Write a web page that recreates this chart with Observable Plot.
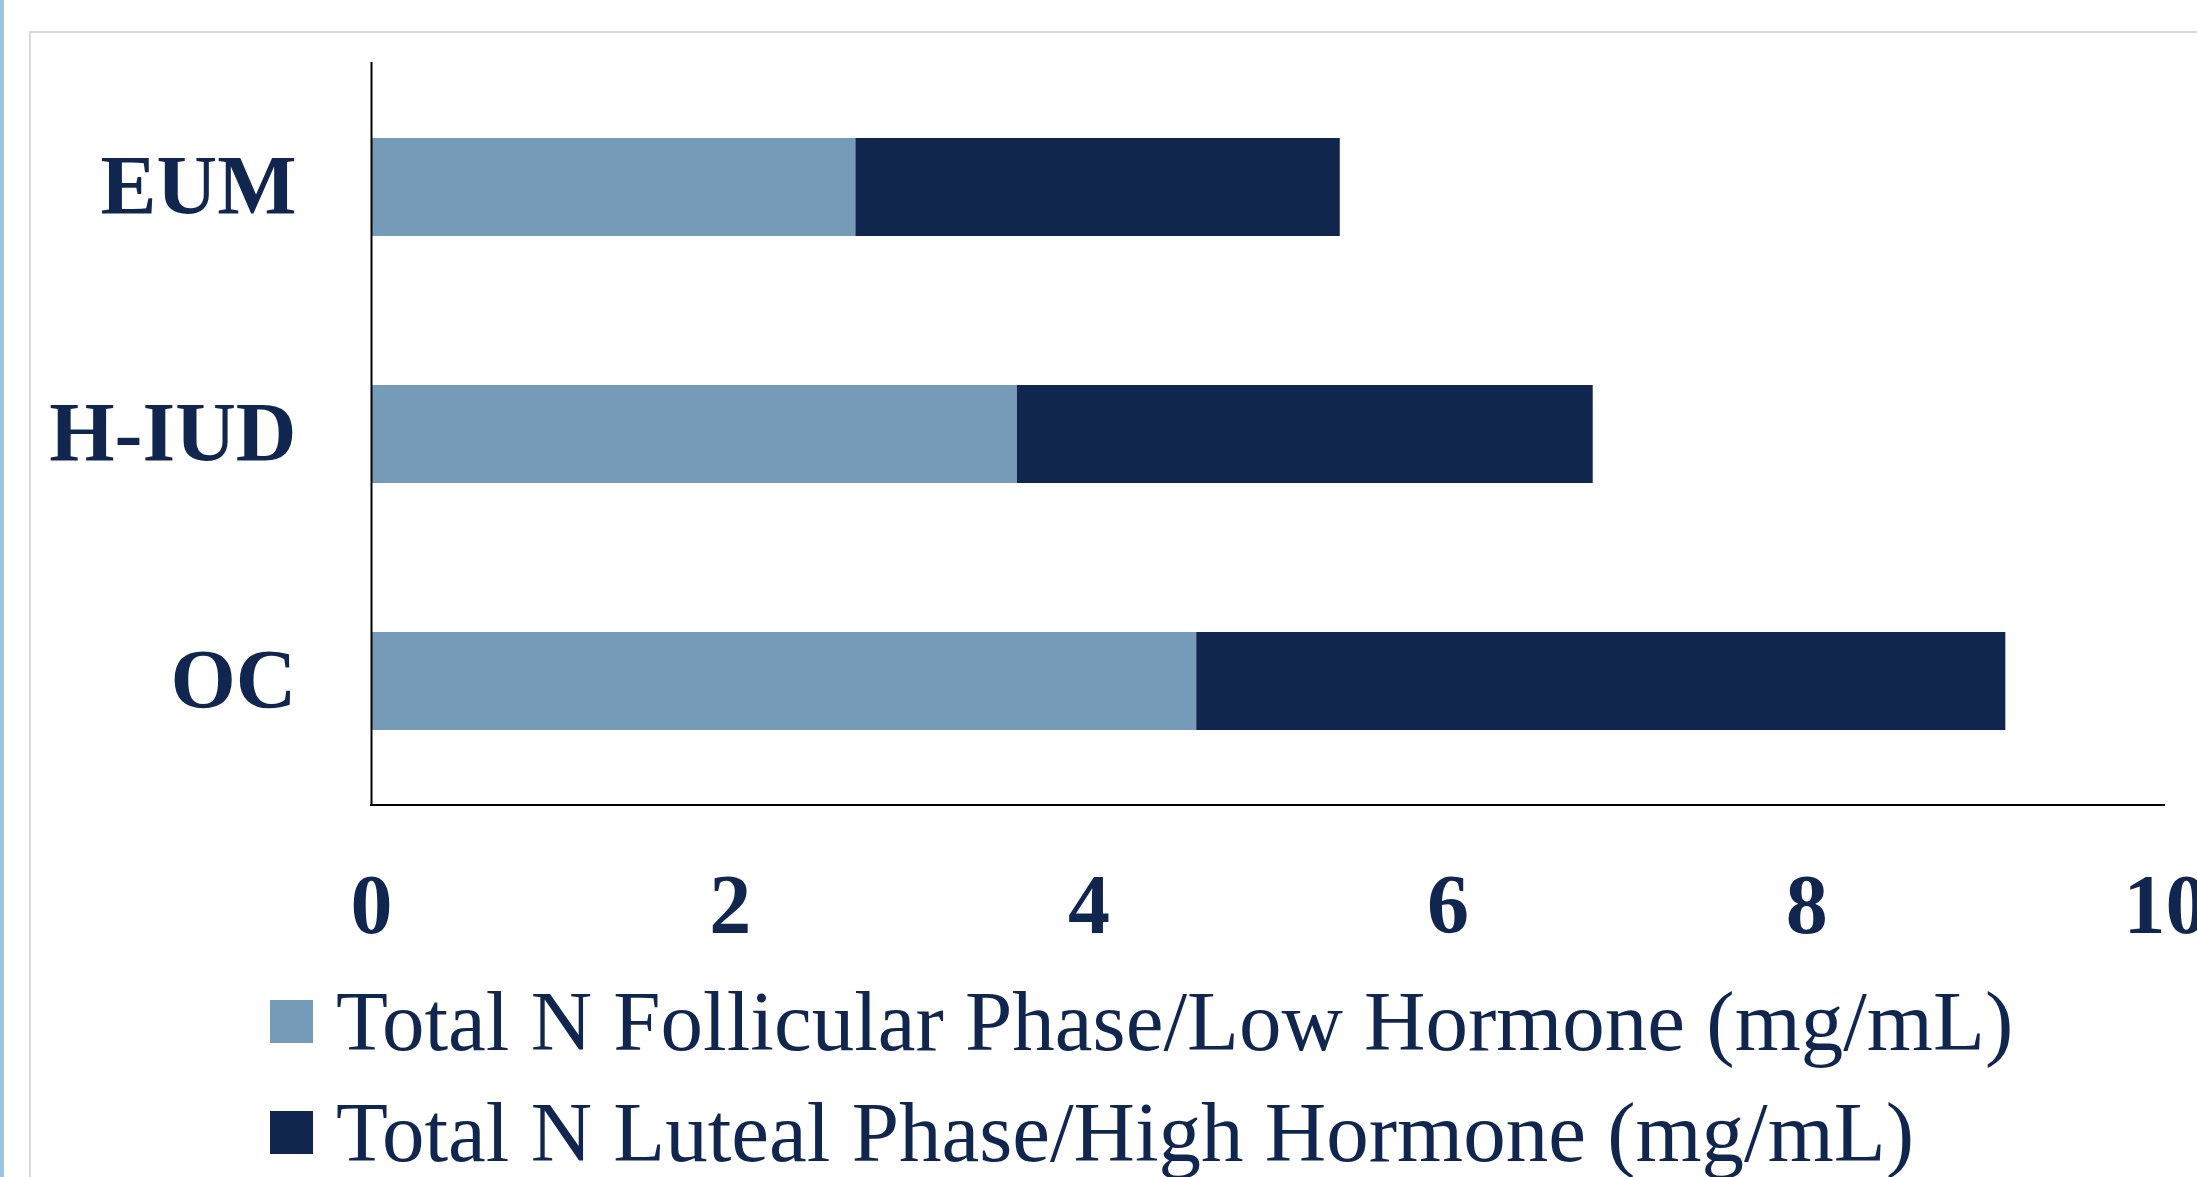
<!DOCTYPE html>
<html>
<head>
<meta charset="utf-8">
<script src="https://cdn.jsdelivr.net/npm/d3@7"></script>
<script src="https://cdn.jsdelivr.net/npm/@observablehq/plot@0.6"></script>
<style>
  html, body { margin: 0; padding: 0; background: #fff; }
  body { width: 2197px; height: 1177px; position: relative; overflow: hidden;
         font-family: "Liberation Serif", "Times New Roman", serif; }
  .stripe { position: absolute; left: 0; top: 0; width: 4px; height: 100%; background: #9dc3e6; }
  .frame { position: absolute; left: 29px; top: 31px; width: 2400px; height: 1400px;
           border: 2px solid #d9d9d9; box-sizing: border-box; }
  #chart { position: absolute; left: 0; top: 0; width: 2197px; }
  #chart svg { display: block; }
  .legend { padding-top: 6px; padding-left: 270px; color: #10264f; }
  .legend .row { display: flex; align-items: center; height: 111px; line-height: 111px;
                 font-size: 85px; white-space: nowrap; }
  .legend .sw { width: 43px; height: 43px; margin-right: 23px; flex: none; }
</style>
</head>
<body>
<div class="stripe"></div>
<div class="frame"></div>
<div id="chart"></div>
<script>
// Contraceptive groups and the two stacked series (mg/mL)
const groups = ["EUM", "H-IUD", "OC"];
const follicular = [2.70, 3.60, 4.60];
const luteal = [2.70, 3.21, 4.51];
const seriesNames = [
  "Total N Follicular Phase/Low Hormone (mg/mL)",
  "Total N Luteal Phase/High Hormone (mg/mL)"
];
const seriesColors = ["#769bb8", "#11264f"];
const xTicks = [0, 2, 4, 6, 8, 10];

// Long-format rows for stacking: follicular first, luteal stacked after it
const rows = [];
groups.forEach((g, i) => {
  rows.push({group: g, series: seriesNames[0], value: follicular[i]});
  rows.push({group: g, series: seriesNames[1], value: luteal[i]});
});

const serif = "'Liberation Serif', 'Times New Roman', serif";

// Horizontal baseline along the bottom of the plot area, drawn from the x scale
const bottomRule = (index, {x}, values, {height, marginBottom}) => {
  const y = height - marginBottom;
  return d3.create("svg:line")
    .attr("x1", x(xTicks[0]) - 1)
    .attr("x2", x(xTicks[xTicks.length - 1]))
    .attr("y1", y).attr("y2", y)
    .attr("stroke", "#000")
    .attr("stroke-width", 2)
    .node();
};

const chart = Plot.plot({
  width: 2197,
  height: 960,
  marginLeft: 371,
  marginRight: 32,
  marginTop: 62,
  marginBottom: 155,
  style: {fontFamily: serif, color: "#10264f", background: "transparent", overflow: "visible"},
  x: {domain: [0, 10], label: null},
  y: {domain: groups, paddingInner: 0.604, paddingOuter: 0.302, label: null},
  color: {domain: seriesNames, range: seriesColors},
  marks: [
    Plot.barX(rows, Plot.stackX({x: "value", y: "group", fill: "series"})),
    Plot.ruleX([0], {stroke: "#000", strokeWidth: 2}),
    bottomRule,
    Plot.axisY({tickSize: 0, tickPadding: 75, fontSize: 84, fontWeight: "bold",
                fill: "#10264f", label: null}),
    Plot.axisX({ticks: xTicks, tickSize: 0, tickPadding: 68, fontSize: 84, fontWeight: "bold",
                fill: "#10264f", label: null})
  ]
});

const root = document.getElementById("chart");
root.appendChild(chart);

// Legend below the chart
const legend = document.createElement("div");
legend.className = "legend";
seriesNames.forEach((name, i) => {
  const row = document.createElement("div");
  row.className = "row";
  const sw = document.createElement("span");
  sw.className = "sw";
  sw.style.background = seriesColors[i];
  const label = document.createElement("span");
  label.textContent = name;
  row.appendChild(sw);
  row.appendChild(label);
  legend.appendChild(row);
});
root.appendChild(legend);
</script>
</body>
</html>
